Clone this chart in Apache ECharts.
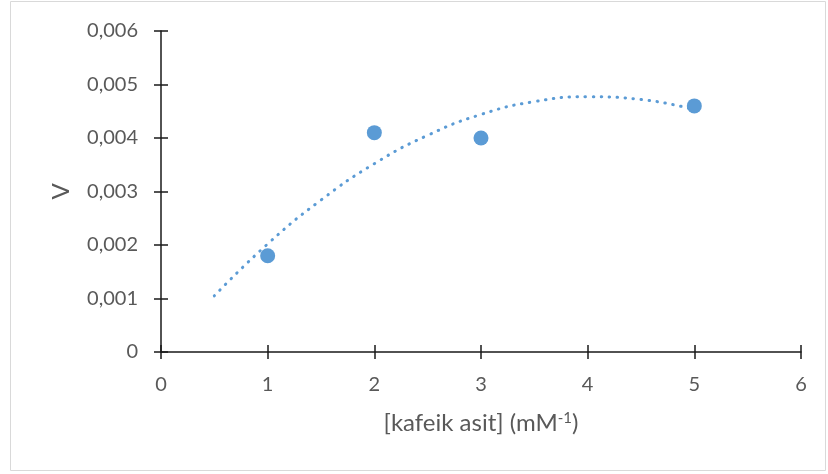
<!DOCTYPE html>
<html><head><meta charset="utf-8">
<script src="https://cdn.jsdelivr.net/npm/echarts@6/dist/echarts.min.js"></script>
<style>html,body{margin:0;padding:0;background:#fff}#c{width:828px;height:474px}</style>
</head><body><div id="c"></div>
<script>
var pointsX = [1, 2, 3, 5];
var pointsY = [0.0018, 0.0041, 0.0040, 0.0046];
var trendX = [0.5, 1, 1.5, 2, 2.5, 3, 3.5, 4, 4.5, 5];
var trendY = [0.00105, 0.00202, 0.00284, 0.00352, 0.00405, 0.00444, 0.00468, 0.00477, 0.00472, 0.00453];
var xTitle = '[kafeik asit] (mM{sup|-1})';
var yTitle = 'V';

var font = 'Lato, "Open Sans", sans-serif';
var chart = echarts.init(document.getElementById('c'));
var axisLine = {lineStyle: {color: '#1a1a1a', width: 1.5}};
chart.setOption({
  animation: false,
  graphic: [{type: 'rect', shape: {x: 10.5, y: 1.5, width: 815, height: 469}, style: {fill: 'none', stroke: '#d9d9d9', lineWidth: 1}, z: -1}],
  grid: {left: 161, right: 27, top: 31, bottom: 122},
  xAxis: [{
    type: 'value', min: 0, max: 6, interval: 1,
    axisLine: axisLine,
    axisTick: {show: true, length: 7, lineStyle: {color: '#1a1a1a', width: 1.5}},
    splitLine: {show: false},
    axisLabel: {color: '#595959', fontSize: 20, fontFamily: font, margin: 23},
    name: xTitle, nameLocation: 'middle', nameGap: 59,
    nameTextStyle: {color: '#595959', fontSize: 24, fontFamily: font, rich: {sup: {fontSize: 15, verticalAlign: 'top', color: '#595959', fontFamily: font, padding: [0,0,10,0]}}}
  }, {
    type: 'value', min: 0, max: 6, interval: 1, position: 'bottom',
    axisLine: {show: false},
    axisTick: {show: true, inside: true, length: 7, lineStyle: {color: '#1a1a1a', width: 1.5}},
    splitLine: {show: false}, axisLabel: {show: false}
  }],
  yAxis: [{
    type: 'value', min: 0, max: 0.006, interval: 0.001,
    axisLine: axisLine,
    axisTick: {show: true, length: 7, lineStyle: {color: '#1a1a1a', width: 1.5}},
    splitLine: {show: false},
    axisLabel: {color: '#595959', fontSize: 20, fontFamily: font, margin: 23,
      formatter: function (v) { return v === 0 ? '0' : v.toFixed(3).replace('.', ','); }},
    name: yTitle, nameLocation: 'middle', nameGap: 88,
    nameTextStyle: {color: '#595959', fontSize: 24, fontFamily: font}
  }, {
    type: 'value', min: 0, max: 0.006, interval: 0.001, position: 'left',
    axisLine: {show: false},
    axisTick: {show: true, inside: true, length: 7, lineStyle: {color: '#1a1a1a', width: 1.5}},
    splitLine: {show: false}, axisLabel: {show: false}
  }],
  series: [{
    type: 'line', smooth: true, showSymbol: false,
    data: trendX.map(function (x, i) { return [x, trendY[i]]; }),
    lineStyle: {color: '#5b9bd5', width: 3, type: [0.5, 7.5], cap: 'round'},
    z: 2
  }, {
    type: 'scatter', symbolSize: 15,
    data: pointsX.map(function (x, i) { return [x, pointsY[i]]; }),
    itemStyle: {color: '#5b9bd5', opacity: 1},
    z: 3
  }]
});
</script></body></html>
